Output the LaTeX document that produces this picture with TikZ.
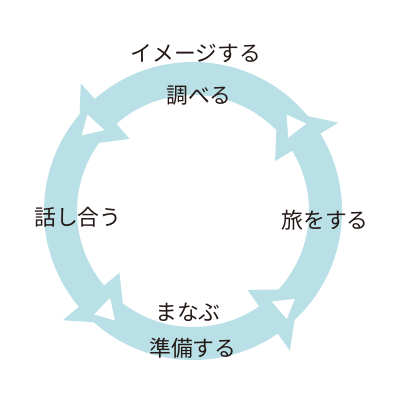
\documentclass[tikz,border=0pt]{standalone}
\usepackage{fontspec}
\usepackage{xcolor}
\usepackage{tikz}
\newfontfamily\jpfont{Noto Sans CJK JP}
\definecolor{ringblue}{RGB}{185,224,230}
\definecolor{labelink}{RGB}{35,24,21}

\begin{document}
\begin{tikzpicture}[x=0.025cm, y=0.025cm]
\useasboundingbox (-193,-189) rectangle (207,211);

% ring
\draw[ringblue, line width=0.825cm] (0,0) circle (132.5);

% arrow heads
\fill[ringblue] (131.3:96) -- (131.3:170) -- ({131.3+19}:132) -- cycle;
\fill[white] ({131.3+6.3}:120) -- ({131.3+6.3}:143) -- ({131.3+14.5}:134.5) -- cycle;
\fill[ringblue] (31.3:96) -- (31.3:170) -- ({31.3+19}:132) -- cycle;
\fill[white] ({31.3+6.3}:120) -- ({31.3+6.3}:143) -- ({31.3+14.5}:134.5) -- cycle;
\fill[ringblue] (304.7:96) -- (304.7:170) -- ({304.7+19}:132) -- cycle;
\fill[white] ({304.7+6.3}:120) -- ({304.7+6.3}:143) -- ({304.7+14.5}:134.5) -- cycle;
\fill[ringblue] (220:96) -- (220:170) -- ({220+19}:132) -- cycle;
\fill[white] ({220+6.3}:120) -- ({220+6.3}:143) -- ({220+14.5}:134.5) -- cycle;

\begin{scope}[every node/.style={inner sep=0pt, text=labelink,
                                 font=\jpfont\fontsize{15.5}{18}\selectfont}]
  \node (image) at (3,158) {イメージする};
  \node (research) at (6,115) {調べる};
  \node (travel) at (132,-9) {旅をする};
  \node (learn) at (-5,-101) {まなぶ};
  \node (prepare) at (0,-137) {準備する};
  \node (discuss) at (-115,-6) {話し合う};
\end{scope}
\end{tikzpicture}
\end{document}
